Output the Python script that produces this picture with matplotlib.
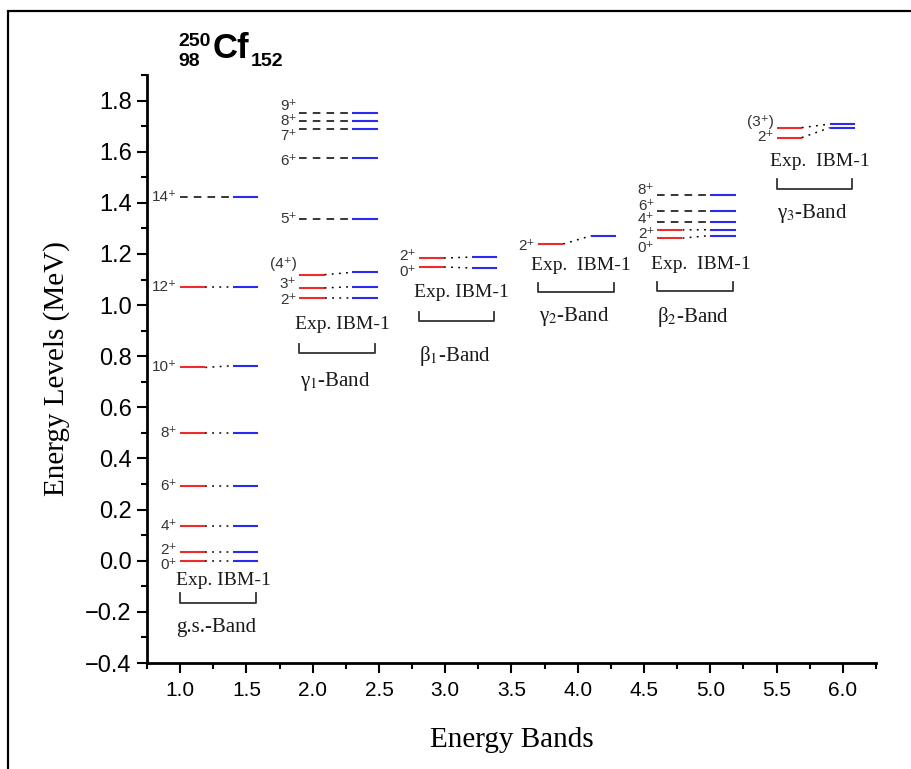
import matplotlib.pyplot as plt
from matplotlib.patches import Rectangle
from matplotlib.ticker import MultipleLocator

plt.rcParams['font.family'] = ['Liberation Sans', 'DejaVu Sans']
plt.rcParams['mathtext.fontset'] = 'stix'

# bands (Exp / IBM-1 energies in MeV, None = no experimental level)
band_names = ['g.s.-Band', 'γ$_1$-Band', 'β$_1$-Band',
              'γ$_2$-Band', 'β$_2$-Band', 'γ$_3$-Band']
band_pos = [1.0, 1.9, 2.8, 3.7, 4.6, 5.5]

gs_spins = ['0⁺', '2⁺', '4⁺', '6⁺', '8⁺', '10⁺', '12⁺', '14⁺']
gs_exp = [0.0, 0.036, 0.136, 0.291, 0.498, 0.756, 1.069, None]
gs_ibm = [0.0, 0.036, 0.136, 0.291, 0.498, 0.763, 1.069, 1.422]

g1_spins = ['2⁺', '3⁺', '(4⁺)', '5⁺', '6⁺', '7⁺', '8⁺', '9⁺']
g1_exp = [1.027, 1.067, 1.119, None, None, None, None, None]
g1_ibm = [1.027, 1.072, 1.128, 1.337, 1.576, 1.690, 1.722, 1.753]

b1_spins = ['0⁺', '2⁺']
b1_exp = [1.149, 1.184]
b1_ibm = [1.145, 1.188]

g2_spins = ['2⁺']
g2_exp = [1.239]
g2_ibm = [1.271]

b2_spins = ['0⁺', '2⁺', '4⁺', '6⁺', '8⁺']
b2_exp = [1.262, 1.294, None, None, None]
b2_ibm = [1.272, 1.295, 1.324, 1.367, 1.431]

g3_spins = ['2⁺', '(3⁺)']
g3_exp = [1.655, 1.694]
g3_ibm = [1.694, 1.708]

yticks = [-0.4, -0.2, 0.0, 0.2, 0.4, 0.6, 0.8, 1.0, 1.2, 1.4, 1.6, 1.8]
xticks = [1.0, 1.5, 2.0, 2.5, 3.0, 3.5, 4.0, 4.5, 5.0, 5.5, 6.0]

bands = [(gs_spins, gs_exp, gs_ibm), (g1_spins, g1_exp, g1_ibm),
         (b1_spins, b1_exp, b1_ibm), (g2_spins, g2_exp, g2_ibm),
         (b2_spins, b2_exp, b2_ibm), (g3_spins, g3_exp, g3_ibm)]

# layout: label pixel offsets (up) per level, and annotation heights
label_dy = [[-4, 2, 0, 0, 0, 0, 0, 0],
            [-2, 4, 11, 0, -3, -7, 0, 7],
            [-5, 2],
            [-2],
            [-10, -4, 3, 5, 5],
            [1, 6]]
exp_txt_y = [-0.078, 0.925, 1.051, 1.153, 1.157, 1.56]
bracket_y = [-0.165, 0.812, 0.937, 1.051, 1.055, 1.455]
name_y = [-0.263, 0.702, 0.80, 0.957, 0.953, 1.357]
exp_txt = ['Exp. IBM-1', 'Exp. IBM-1', 'Exp. IBM-1',
           'Exp.  IBM-1', 'Exp.  IBM-1', 'Exp.  IBM-1']

fig = plt.figure(figsize=(9.12, 7.69), dpi=100)
ax = fig.add_axes([147 / 912, 1 - 663 / 769, 729 / 912, 588 / 769])

red = '#f02a2a'
blue = '#2a2af0'
lab_col = '#333333'

for i, (spins, exp, ibm) in enumerate(bands):
    x0 = band_pos[i]
    for j, lbl in enumerate(spins):
        e = exp[j]
        t = ibm[j]
        ax.plot([x0 + 0.40, x0 + 0.59], [t, t], color=blue, lw=1.5,
                solid_capstyle='butt')
        if e is not None:
            ax.plot([x0, x0 + 0.19], [e, e], color=red, lw=1.5,
                    solid_capstyle='butt')
            ax.plot([x0 + 0.19, x0 + 0.40], [e, t], color='black', lw=1.1,
                    ls=(0, (1.2, 3.5)))
            ly = e
        else:
            ax.plot([x0, x0 + 0.40], [t, t], color='black', lw=1.1,
                    ls=(0, (5, 4)))
            ly = t
        ax.annotate(lbl, xy=(x0, ly), xytext=(-3, label_dy[i][j]),
                    textcoords='offset pixels', ha='right', va='center',
                    fontsize=11, color=lab_col)

    # Exp / IBM-1 caption, bracket and band name
    ax.text(x0 + 0.325, exp_txt_y[i], exp_txt[i], ha='center', va='center',
            fontsize=14, family='Liberation Serif', color='#1a1a1a')
    by = bracket_y[i]
    ax.plot([x0, x0, x0 + 0.57, x0 + 0.57], [by + 0.037, by, by, by + 0.037],
            color='#333333', lw=1.3)
    ax.text(x0 + 0.27, name_y[i], band_names[i], ha='center', va='center',
            fontsize=15, family='Liberation Serif', color='#1a1a1a')

ax.set_xlim(0.75, 6.25)
ax.set_ylim(-0.4, 1.9)
ax.set_xticks(xticks)
ax.set_yticks(yticks)
ax.set_xticklabels(['%.1f' % v for v in xticks])
ax.set_yticklabels(['%.1f' % v if v >= 0 else '\u2212%.1f' % -v for v in yticks])
ax.xaxis.set_minor_locator(MultipleLocator(0.25))
ax.yaxis.set_minor_locator(MultipleLocator(0.1))
ax.tick_params(which='major', direction='out', length=7, width=1.5)
ax.tick_params(which='minor', direction='out', length=4, width=1.5)
ax.tick_params(axis='y', labelsize=17, pad=4)
ax.tick_params(axis='x', labelsize=15, pad=6)
for s in ['top', 'right']:
    ax.spines[s].set_visible(False)
for s in ['left', 'bottom']:
    ax.spines[s].set_linewidth(2)

ax.set_xlabel('Energy Bands', fontsize=21, family='Liberation Serif')
ax.set_ylabel('Energy Levels (MeV)', fontsize=21, family='Liberation Serif')
ax.xaxis.set_label_coords(0.5, -0.108)
ax.yaxis.set_label_coords(-0.105, 0.5)

# nuclide title
fig.text(178 / 912, 1 - 41 / 769, '250', fontsize=14, fontweight='bold',
         va='center', ha='left')
fig.text(178 / 912, 1 - 61 / 769, '98', fontsize=14, fontweight='bold',
         va='center', ha='left')
fig.text(213 / 912, 1 - 49 / 769, 'Cf', fontsize=25, fontweight='bold',
         va='center', ha='left')
fig.text(251 / 912, 1 - 62 / 769, '152', fontsize=14, fontweight='bold',
         va='center', ha='left')

# outer frame
fig.add_artist(Rectangle((8 / 912, -0.05), 1.2, 1 - 11 / 769 + 0.05,
                         transform=fig.transFigure, fill=False,
                         edgecolor='black', lw=1.6))

fig.savefig('out.png', dpi=100)
